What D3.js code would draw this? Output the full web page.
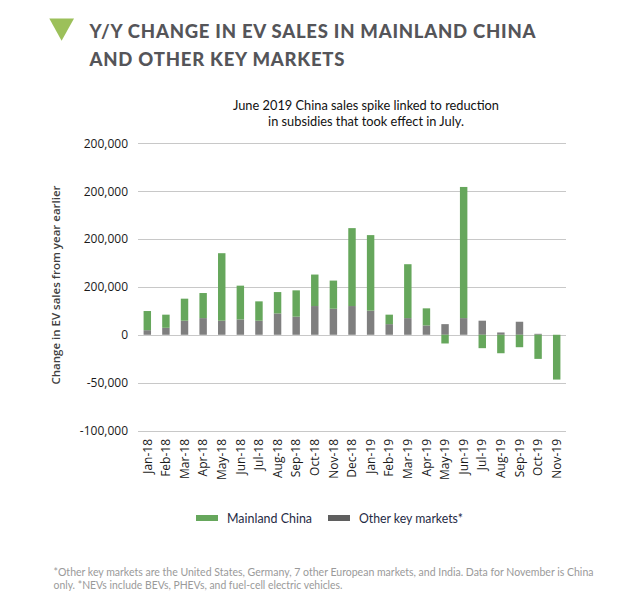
<!DOCTYPE html>
<html>
<head>
<meta charset="utf-8">
<script src="https://cdn.jsdelivr.net/npm/d3@7"></script>
<style>
  html, body { margin: 0; padding: 0; background: #fff; }
  svg { display: block; }
</style>
</head>
<body>
<svg id="chart" width="626" height="606"></svg>
<script>
const categories = ["Jan-18","Feb-18","Mar-18","Apr-18","May-18","Jun-18","Jul-18","Aug-18","Sep-18","Oct-18","Nov-18","Dec-18",
                    "Jan-19","Feb-19","Mar-19","Apr-19","May-19","Jun-19","Jul-19","Aug-19","Sep-19","Oct-19","Nov-19"];
const chinaValues = [20000, 13700, 23000, 26200, 70500, 35300, 20200, 22300, 27500, 32900, 29400, 81400,
                     78900, 9900, 56300, 17900, -9100, 137000, -14000, -19300, -13000, -25200, -46800];
const otherValues = [4800, 7300, 14700, 17400, 14700, 16000, 14700, 22300, 18900, 30000, 27200, 30000,
                     25200, 11100, 17400, 9700, 11100, 17400, 14700, 2400, 13600, 1000, 0];
const yTickValues = [-100000, -50000, 0, 50000, 100000, 150000, 200000];
const yTickLabels = ["-100,000", "-50,000", "0", "200,000", "200,000", "200,000", "200,000"];
const seriesNames = ["Mainland China", "Other key markets*"];
const seriesColors = ["#66a75c", "#7f7f7f"];

const svg = d3.select("#chart");

// Title block
svg.append("path")
  .attr("d", d3.line()([[49.3, 18.5], [74, 18.5], [61.6, 40.7]]) + "Z")
  .attr("fill", "#9cc05a");
const titleG = svg.append("g")
  .attr("font-family", "Lato, 'Open Sans', sans-serif")
  .attr("font-weight", "900")
  .attr("font-size", "18.5px")
  .attr("fill", "#555559");
titleG.append("text").attr("x", 89.5).attr("y", 37.5)
  .attr("textLength", 446).attr("lengthAdjust", "spacing")
  .text("Y/Y CHANGE IN EV SALES IN MAINLAND CHINA");
titleG.append("text").attr("x", 89.5).attr("y", 66)
  .attr("textLength", 255).attr("lengthAdjust", "spacing")
  .text("AND OTHER KEY MARKETS");

// Annotation
const annG = svg.append("g")
  .attr("font-family", "Lato, 'Open Sans', sans-serif")
  .attr("font-size", "12.8px")
  .attr("fill", "#111")
  .attr("text-anchor", "middle");
annG.append("text").attr("x", 366).attr("y", 110).text("June 2019 China sales spike linked to reduction");
annG.append("text").attr("x", 366).attr("y", 126).text("in subsidies that took effect in July.");

// Scales
const x = d3.scaleBand().domain(categories).range([138, 566]).paddingInner(0.6).paddingOuter(0.3);
const y = d3.scaleLinear().domain([-100000, 200000]).range([430.5, 143.3]);

// Gridlines
svg.append("g")
  .selectAll("line")
  .data(yTickValues)
  .join("line")
  .attr("x1", 138).attr("x2", 566)
  .attr("y1", d => Math.round(y(d)) + 0.5).attr("y2", d => Math.round(y(d)) + 0.5)
  .attr("stroke", "#c8c8c8").attr("stroke-width", 1);

// Y axis labels
const yAxis = d3.axisLeft(y)
  .tickValues(yTickValues)
  .tickFormat((d, i) => yTickLabels[i])
  .tickSize(0)
  .tickPadding(10);
const yAxisG = svg.append("g").attr("transform", "translate(138,0)").call(yAxis);
yAxisG.select(".domain").remove();
yAxisG.selectAll("text")
  .attr("font-family", "'Open Sans', sans-serif")
  .attr("font-size", "12px")
  .attr("fill", "#1a1a1a");

// Y axis title
svg.append("text")
  .attr("transform", "translate(60,285) rotate(-90)")
  .attr("text-anchor", "middle")
  .attr("font-family", "'Open Sans', sans-serif")
  .attr("font-weight", "600")
  .attr("font-size", "11.5px")
  .attr("fill", "#404040")
  .text("Change in EV sales from year earlier");

// Stack
const rows = categories.map((c, i) => ({ month: c, other: otherValues[i], china: chinaValues[i] }));
const stack = d3.stack().keys(["other", "china"]).offset(d3.stackOffsetDiverging);
const stacked = stack(rows);
const colorByKey = { china: seriesColors[0], other: seriesColors[1] };

svg.append("g")
  .selectAll("g")
  .data(stacked)
  .join("g")
  .attr("fill", d => colorByKey[d.key])
  .selectAll("rect")
  .data(d => d)
  .join("rect")
  .attr("x", d => x(d.data.month))
  .attr("width", x.bandwidth())
  .attr("y", d => y(Math.max(d[0], d[1])))
  .attr("height", d => Math.abs(y(d[0]) - y(d[1])));

// X axis labels
const xAxis = d3.axisBottom(x).tickSize(0).tickPadding(0);
const xAxisG = svg.append("g").attr("transform", "translate(0,432)").call(xAxis);
xAxisG.select(".domain").remove();
xAxisG.selectAll("text")
  .attr("font-family", "'Open Sans', sans-serif")
  .attr("font-size", "12px")
  .attr("fill", "#1a1a1a")
  .attr("text-anchor", "end")
  .attr("dy", "0.35em")
  .attr("transform", "translate(0,7) rotate(-90)")
  .attr("x", 0).attr("y", 0);

// Legend
const legend = svg.append("g")
  .attr("font-family", "Lato, 'Open Sans', sans-serif")
  .attr("font-size", "13px")
  .attr("fill", "#1f2a44");
const legendItems = [
  { name: seriesNames[0], color: seriesColors[0], sx: 196, tx: 227, w: 85 },
  { name: seriesNames[1], color: "#5f5f5f", sx: 328, tx: 359, w: 104 }
];
legendItems.forEach(it => {
  legend.append("rect").attr("x", it.sx).attr("y", 515).attr("width", 22).attr("height", 6).attr("fill", it.color);
  legend.append("text").attr("x", it.tx).attr("y", 522.5)
    .attr("textLength", it.w).attr("lengthAdjust", "spacingAndGlyphs").text(it.name);
});

// Footnote
const foot = svg.append("g")
  .attr("font-family", "Lato, 'Open Sans', sans-serif")
  .attr("font-size", "11px")
  .attr("fill", "#9a9a9a");
foot.append("text").attr("x", 53.5).attr("y", 575.5)
  .attr("textLength", 540).attr("lengthAdjust", "spacingAndGlyphs")
  .text("*Other key markets are the United States, Germany, 7 other European markets, and India. Data for November is China");
foot.append("text").attr("x", 53.5).attr("y", 589)
  .attr("textLength", 289).attr("lengthAdjust", "spacingAndGlyphs")
  .text("only.  *NEVs include BEVs, PHEVs, and fuel-cell electric vehicles.");
</script>
</body>
</html>
